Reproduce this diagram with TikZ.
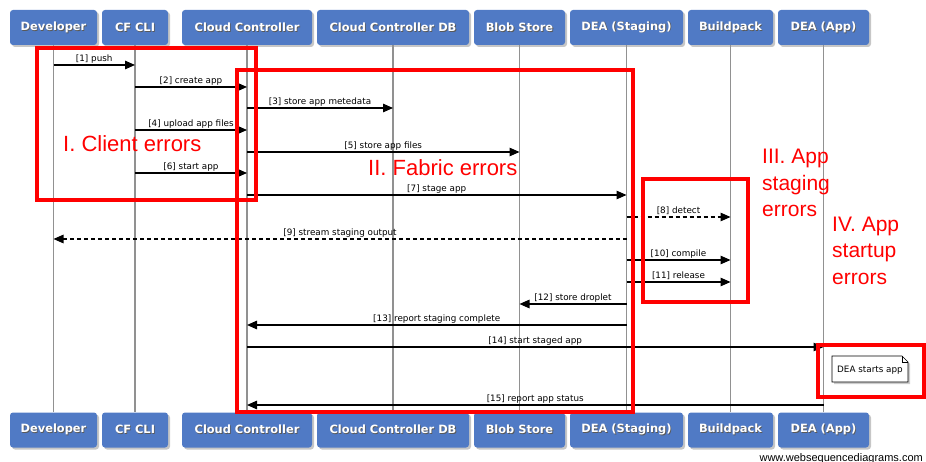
\documentclass[tikz,border=0pt]{standalone}
\usepackage{fontspec}
\setmainfont{Liberation Sans}
\newfontfamily\lblfont{DejaVu Sans}
\usetikzlibrary{arrows.meta,shadows}

\definecolor{actorblue}{RGB}{80,122,197}
\definecolor{lifegray}{RGB}{145,145,145}
\definecolor{errred}{RGB}{255,0,0}

\newcommand{\actortext}[1]{\makebox[0pt][l]{\kern0.8pt\raisebox{-0.8pt}{\color{black!65}#1}}#1}

\tikzset{
	actor/.style={fill=actorblue, rounded corners=3pt, text=white, inner sep=0pt,
		font=\lblfont\bfseries\fontsize{11.4}{13}\selectfont, minimum height=35pt,
		drop shadow={opacity=0.45, shadow xshift=2pt, shadow yshift=-2pt}},
	lifeline/.style={draw=lifegray, line width=1.1pt},
	msg/.style={line width=1.3pt, -{Triangle[length=10pt,width=8.5pt]}},
	reply/.style={msg, dash pattern=on 4pt off 3pt},
	lbl/.style={above, inner sep=1.5pt, font=\lblfont\fontsize{8.8}{10}\selectfont},
	errbox/.style={draw=errred, line width=3.5pt},
	errtext/.style={text=errred, anchor=base west, inner sep=0pt, align=left,
		font=\fontsize{21}{26.5}\selectfont},
}

\begin{document}
\begin{tikzpicture}[x=1pt, y=-1pt]
	\useasboundingbox (0,0) rectangle (926,462);
	
	% participants, top row
	\node [actor, minimum width=87pt] (dev-t) at (53.5,27.5) {\actortext{Developer}};
	\node [actor, minimum width=66pt] (cli-t) at (135,27.5) {\actortext{CF CLI}};
	\node [actor, minimum width=130pt] (cc-t) at (247,27.5) {\actortext{Cloud Controller}};
	\node [actor, minimum width=152pt] (ccdb-t) at (393,27.5) {\actortext{Cloud Controller DB}};
	\node [actor, minimum width=91pt] (blob-t) at (519.5,27.5) {\actortext{Blob Store}};
	\node [actor, minimum width=113pt] (deas-t) at (626.5,27.5) {\actortext{DEA (Staging)}};
	\node [actor, minimum width=85pt] (bp-t) at (730.5,27.5) {\actortext{Buildpack}};
	\node [actor, minimum width=91pt] (deaa-t) at (823.5,27.5) {\actortext{DEA (App)}};
	
	% participants, bottom row
	\node [actor, minimum width=87pt] (dev-b) at (53.5,430) {\actortext{Developer}};
	\node [actor, minimum width=66pt] (cli-b) at (135,430) {\actortext{CF CLI}};
	\node [actor, minimum width=130pt] (cc-b) at (247,430) {\actortext{Cloud Controller}};
	\node [actor, minimum width=152pt] (ccdb-b) at (393,430) {\actortext{Cloud Controller DB}};
	\node [actor, minimum width=91pt] (blob-b) at (519.5,430) {\actortext{Blob Store}};
	\node [actor, minimum width=113pt] (deas-b) at (626.5,430) {\actortext{DEA (Staging)}};
	\node [actor, minimum width=85pt] (bp-b) at (730.5,430) {\actortext{Buildpack}};
	\node [actor, minimum width=91pt] (deaa-b) at (823.5,430) {\actortext{DEA (App)}};
	
	\draw [lifeline] (dev-t) -- (dev-b);
	\draw [lifeline] (cli-t) -- (cli-b);
	\draw [lifeline] (cc-t) -- (cc-b);
	\draw [lifeline] (ccdb-t) -- (ccdb-b);
	\draw [lifeline] (blob-t) -- (blob-b);
	\draw [lifeline] (deas-t) -- (deas-b);
	\draw [lifeline] (bp-t) -- (bp-b);
	\draw [lifeline] (deaa-t) -- (deaa-b);
	
	% messages
	\draw [msg] (dev-t |- 0,65) -- (cli-t |- 0,65) node [lbl, midway] {[1] push};
	\draw [msg] (cli-t |- 0,87) -- (cc-t |- 0,87) node [lbl, midway] {[2] create app};
	\draw [msg] (cc-t |- 0,108) -- (ccdb-t |- 0,108) node [lbl, midway] {[3] store app metedata};
	\draw [msg] (cli-t |- 0,130) -- (cc-t |- 0,130) node [lbl, midway] {[4] upload app files};
	\draw [msg] (cc-t |- 0,152) -- (blob-t |- 0,152) node [lbl, midway] {[5] store app files};
	\draw [msg] (cli-t |- 0,173) -- (cc-t |- 0,173) node [lbl, midway] {[6] start app};
	\draw [msg] (cc-t |- 0,195) -- (deas-t |- 0,195) node [lbl, midway] {[7] stage app};
	\draw [reply] (deas-t |- 0,217) -- (bp-t |- 0,217) node [lbl, midway] {[8] detect};
	\draw [reply] (deas-t |- 0,239) -- (dev-t |- 0,239) node [lbl, midway] {[9] stream staging output};
	\draw [msg] (deas-t |- 0,260) -- (bp-t |- 0,260) node [lbl, midway] {[10] compile};
	\draw [msg] (deas-t |- 0,282) -- (bp-t |- 0,282) node [lbl, midway] {[11] release};
	\draw [msg] (deas-t |- 0,304) -- (blob-t |- 0,304) node [lbl, midway] {[12] store droplet};
	\draw [msg] (deas-t |- 0,325) -- (cc-t |- 0,325) node [lbl, midway] {[13] report staging complete};
	\draw [msg] (cc-t |- 0,347) -- (deaa-t |- 0,347) node [lbl, midway] {[14] start staged app};
	\draw [msg] (deaa-t |- 0,405) -- (cc-t |- 0,405) node [lbl, midway] {[15] report app status};
	
	% note
	\filldraw [fill=white, line width=0.6pt, drop shadow={opacity=0.4, shadow xshift=2pt, shadow yshift=-2pt}]
		(832,356) -- (902,356) -- (908,362) -- (908,382) -- (832,382) -- cycle;
	\draw [line width=0.6pt] (902,356) -- (902,362) -- (908,362);
	\node [font=\lblfont\fontsize{8.8}{10}\selectfont] (start) at (870,370) {DEA starts app};
	
	% error regions
	\draw [errbox] (37,48) rectangle (256,200);
	\draw [errbox] (237,70) rectangle (633,412);
	\draw [errbox] (643,179) rectangle (748,302);
	\draw [errbox] (818,345) rectangle (924,397);
	
	\node [errtext, font=\fontsize{22}{26.5}\selectfont] (client) at (63,152) {I. Client errors};
	\node [errtext, font=\fontsize{22}{26.5}\selectfont] (fabric) at (368,176) {II. Fabric errors};
	\node [errtext] (staging) at (762,217) {III. App\\staging\\errors};
	\node [errtext] (startup) at (832,284) {IV. App\\startup\\errors};
	
	\node [anchor=base east, inner sep=0pt, font=\fontsize{11}{13}\selectfont] (site) at (923,461) {www.websequencediagrams.com};
\end{tikzpicture}
\end{document}
